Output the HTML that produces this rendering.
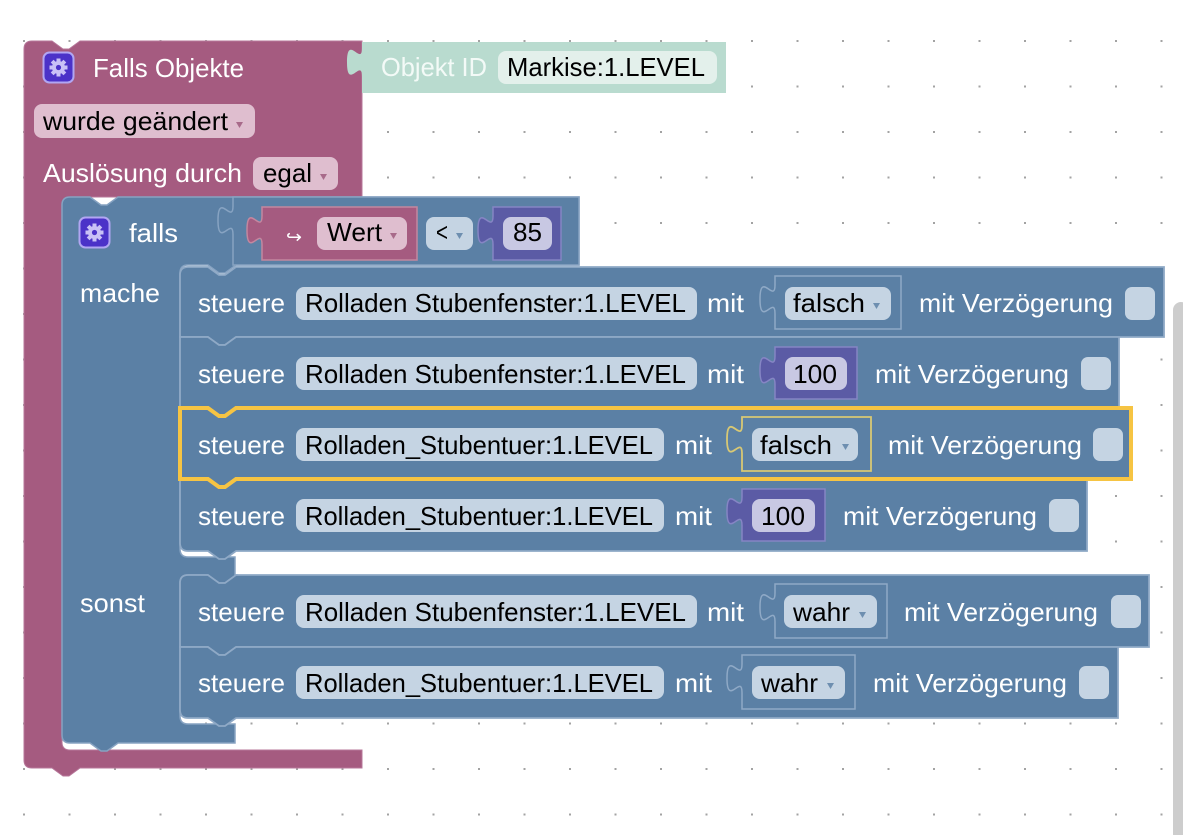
<!DOCTYPE html>
<html><head><meta charset="utf-8"><style>
html,body{margin:0;padding:0;background:#fff;overflow:hidden}
svg{display:block}
.l{font-family:"Liberation Sans",sans-serif;font-size:26px;fill:#fff}
.f{font-family:"Liberation Sans",sans-serif;font-size:26px;fill:#000}
</style></head><body>
<svg width="1183" height="835" viewBox="0 0 1183 835" xmlns="http://www.w3.org/2000/svg">
<defs><pattern id="g" patternUnits="userSpaceOnUse" x="23" y="40" width="45.5" height="45.5"><rect width="2" height="2" fill="#a3a3a3"/></pattern></defs>
<rect width="1183" height="835" fill="#fff"/>
<rect width="1183" height="835" fill="url(#g)"/>
<rect x="1173" y="302" width="16" height="540" rx="8" fill="#cdcdcd"/>

<!-- Pink outer event block -->
<path d="M24,49 Q24,41 32,41 L52,41 l11,8 l6,0 l11,-8 L362,41 L362,197 L70,197 Q62,197 62,205 L62,742 Q62,750 70,750 L362,750 L362,768 L80,768 l-11,8 l-6,0 l-11,-8 L32,768 Q24,768 24,760 Z" fill="#a55b80" stroke="#b7779a" stroke-width="1"/>

<!-- Objekt ID block -->
<path d="M362,48 c0,19 -15,-15 -15,14.25 s15,-4.75 15,14.25 L362,93 L726,93 L726,42 L362,42 Z" fill="#b9dbcf"/>
<text class="l" x="381" y="76" textLength="106" lengthAdjust="spacingAndGlyphs" style="fill:#f3faf7">Objekt ID</text>
<rect x="498" y="51" width="219" height="33" rx="8" fill="#e3f0eb"/>
<text class="f" x="507" y="76" textLength="198" lengthAdjust="spacingAndGlyphs">Markise:1.LEVEL</text>

<!-- gear 1 -->
<g transform="translate(58.5,67.5)">
<rect x="-15" y="-15" width="30" height="30" rx="6" fill="#4b32c8" stroke="#b1a6f2" stroke-width="2"/>
<g fill="#c9c1f6"><circle r="6.5"/><rect x="-2" y="-9" width="4" height="18"/><rect x="-2" y="-9" width="4" height="18" transform="rotate(45)"/><rect x="-2" y="-9" width="4" height="18" transform="rotate(90)"/><rect x="-2" y="-9" width="4" height="18" transform="rotate(135)"/></g>
<circle r="2.6" fill="#4b32c8"/>
</g>
<text class="l" x="93" y="77" textLength="151" lengthAdjust="spacingAndGlyphs">Falls Objekte</text>

<rect x="34" y="104" width="221" height="34" rx="8" fill="#dfbecf"/>
<text class="f" x="43" y="130" textLength="185" lengthAdjust="spacingAndGlyphs">wurde geändert</text>
<polygon points="236,122 243,122 239.5,128" fill="#a86a8a"/>

<text class="l" x="43" y="182" textLength="199" lengthAdjust="spacingAndGlyphs">Auslösung durch</text>
<rect x="253" y="157" width="85" height="33" rx="8" fill="#dfbecf"/>
<text class="f" x="263" y="182" textLength="49" lengthAdjust="spacingAndGlyphs">egal</text>
<polygon points="320,174 327,174 323.5,180" fill="#a86a8a"/>

<!-- Blue falls block -->
<path d="M62,205 Q62,197 70,197 L90,197 l11,8 l6,0 l11,-8 L579,197 L579,265 L236,265 l-11,8 l-6,0 l-11,-8 L188,265 Q180,265 180,273 L180,549 Q180,557 188,557 L235,557 L235,575 L236,575 l-11,8 l-6,0 l-11,-8 L188,575 Q180,575 180,583 L180,716 Q180,724 188,724 L235,724 L235,743 L118,743 l-11,8 l-6,0 l-11,-8 L70,743 Q62,743 62,735 Z" fill="#5b80a5" stroke="#87a3c2" stroke-width="1.5"/>

<!-- gear 2 -->
<g transform="translate(94.5,232.5)">
<rect x="-15" y="-15" width="30" height="30" rx="6" fill="#4b32c8" stroke="#b1a6f2" stroke-width="2"/>
<g fill="#c9c1f6"><circle r="6.5"/><rect x="-2" y="-9" width="4" height="18"/><rect x="-2" y="-9" width="4" height="18" transform="rotate(45)"/><rect x="-2" y="-9" width="4" height="18" transform="rotate(90)"/><rect x="-2" y="-9" width="4" height="18" transform="rotate(135)"/></g>
<circle r="2.6" fill="#4b32c8"/>
</g>
<text class="l" x="129" y="242" textLength="49" lengthAdjust="spacingAndGlyphs">falls</text>
<text class="l" x="80" y="302" textLength="80" lengthAdjust="spacingAndGlyphs">mache</text>
<text class="l" x="80" y="612" textLength="65" lengthAdjust="spacingAndGlyphs">sonst</text>

<!-- compare block -->
<path d="M233,206 c0,19 -15,-15 -15,14.25 s15,-4.75 15,14.25 L233,265 L579,265 L579,197 L233,197 Z" fill="#5b80a5" stroke="#87a3c2" stroke-width="1.5"/>
<!-- Wert pink -->
<path d="M262,216 c0,19 -15,-15 -15,14.25 s15,-4.75 15,14.25 L262,260 L417,260 L417,207 L262,207 Z" fill="#a55b80" stroke="#c3879f" stroke-width="1.5"/>
<text x="286" y="243" font-family="DejaVu Sans, sans-serif" font-size="18" fill="#fff" textLength="16" lengthAdjust="spacingAndGlyphs">↪</text>
<rect x="317" y="217" width="90" height="33" rx="8" fill="#dfbecf"/>
<text class="f" x="327" y="241" textLength="55" lengthAdjust="spacingAndGlyphs">Wert</text>
<polygon points="390,233 397,233 393.5,239" fill="#a86a8a"/>
<rect x="426" y="217" width="47" height="33" rx="8" fill="#c5d4e3"/>
<text class="f" x="436" y="241" textLength="12" lengthAdjust="spacingAndGlyphs">&lt;</text>
<polygon points="456,233 463,233 459.5,239" fill="#6e8fb0"/>
<path d="M493,216 c0,19 -15,-15 -15,14.25 s15,-4.75 15,14.25 L493,260 L561,260 L561,207 L493,207 Z" fill="#5b5ba5" stroke="#8585c4" stroke-width="1.5"/>
<rect x="503" y="217" width="49" height="33" rx="8" fill="#c8c8e3"/>
<text class="f" x="513" y="241" textLength="29" lengthAdjust="spacingAndGlyphs">85</text>

<!-- Row 1 -->
<path d="M180,275 Q180,267 188,267 L208,267 l11,8 l6,0 l11,-8 L1164,267 L1164,337 L236,337 l-11,8 l-6,0 l-11,-8 L180,337 Z" fill="#5b80a5" stroke="#8fa9c6" stroke-width="1.8"/>
<text class="l" x="198" y="312" textLength="87" lengthAdjust="spacingAndGlyphs">steuere</text>
<rect x="296" y="287" width="401" height="33" rx="8" fill="#c5d4e3"/>
<text class="f" x="305" y="312" textLength="381" lengthAdjust="spacingAndGlyphs">Rolladen Stubenfenster:1.LEVEL</text>
<text class="l" x="707" y="312" textLength="37" lengthAdjust="spacingAndGlyphs">mit</text>
<path d="M775,285 c0,19 -15,-15 -15,14.25 s15,-4.75 15,14.25 L775,329 L901,329 L901,276 L775,276 Z" fill="#5b80a5" stroke="#8fa9c6" stroke-width="1.5"/>
<rect x="785" y="287" width="106" height="33" rx="8" fill="#c5d4e3"/>
<text class="f" x="793" y="312" textLength="72" lengthAdjust="spacingAndGlyphs">falsch</text>
<polygon points="873,303 880,303 876.5,309" fill="#6e8fb0"/>
<text class="l" x="919" y="312" textLength="194" lengthAdjust="spacingAndGlyphs">mit Verzögerung</text>
<rect x="1125" y="287" width="30" height="33" rx="7" fill="#c5d4e3"/>

<!-- Row 2 -->
<path d="M180,337 L208,337 l11,8 l6,0 l11,-8 L1119,337 L1119,408 L236,408 l-11,8 l-6,0 l-11,-8 L180,408 Z" fill="#5b80a5" stroke="#8fa9c6" stroke-width="1.8"/>
<text class="l" x="198" y="383" textLength="87" lengthAdjust="spacingAndGlyphs">steuere</text>
<rect x="296" y="357" width="401" height="33" rx="8" fill="#c5d4e3"/>
<text class="f" x="305" y="383" textLength="381" lengthAdjust="spacingAndGlyphs">Rolladen Stubenfenster:1.LEVEL</text>
<text class="l" x="707" y="383" textLength="37" lengthAdjust="spacingAndGlyphs">mit</text>
<path d="M775,356 c0,19 -15,-15 -15,14.25 s15,-4.75 15,14.25 L775,399 L857,399 L857,347 L775,347 Z" fill="#5b5ba5" stroke="#8585c4" stroke-width="1.5"/>
<rect x="785" y="357" width="62" height="33" rx="8" fill="#c8c8e3"/>
<text class="f" x="793" y="383" textLength="44" lengthAdjust="spacingAndGlyphs">100</text>
<text class="l" x="875" y="383" textLength="194" lengthAdjust="spacingAndGlyphs">mit Verzögerung</text>
<rect x="1081" y="357" width="30" height="33" rx="7" fill="#c5d4e3"/>

<!-- Row 4 -->
<path d="M180,479 L208,479 l11,8 l6,0 l11,-8 L1087,479 L1087,551 L236,551 l-11,8 l-6,0 l-11,-8 L188,551 Q180,551 180,543 Z" fill="#5b80a5" stroke="#8fa9c6" stroke-width="1.8"/>
<text class="l" x="198" y="525" textLength="87" lengthAdjust="spacingAndGlyphs">steuere</text>
<rect x="296" y="499" width="368" height="33" rx="8" fill="#c5d4e3"/>
<text class="f" x="305" y="525" textLength="348" lengthAdjust="spacingAndGlyphs">Rolladen_Stubentuer:1.LEVEL</text>
<text class="l" x="675" y="525" textLength="37" lengthAdjust="spacingAndGlyphs">mit</text>
<path d="M742,497 c0,19 -15,-15 -15,14.25 s15,-4.75 15,14.25 L742,541 L825,541 L825,489 L742,489 Z" fill="#5b5ba5" stroke="#8585c4" stroke-width="1.5"/>
<rect x="752" y="499" width="63" height="33" rx="8" fill="#c8c8e3"/>
<text class="f" x="761" y="525" textLength="44" lengthAdjust="spacingAndGlyphs">100</text>
<text class="l" x="843" y="525" textLength="194" lengthAdjust="spacingAndGlyphs">mit Verzögerung</text>
<rect x="1049" y="499" width="30" height="33" rx="7" fill="#c5d4e3"/>

<!-- Row 3 (selected) -->
<path d="M180,408 L208,408 l11,8 l6,0 l11,-8 L1131,408 L1131,479 L236,479 l-11,8 l-6,0 l-11,-8 L180,479 Z" fill="#5b80a5" stroke="#f6c443" stroke-width="4"/>
<text class="l" x="198" y="454" textLength="87" lengthAdjust="spacingAndGlyphs">steuere</text>
<rect x="296" y="428" width="368" height="33" rx="8" fill="#c5d4e3"/>
<text class="f" x="305" y="454" textLength="348" lengthAdjust="spacingAndGlyphs">Rolladen_Stubentuer:1.LEVEL</text>
<text class="l" x="675" y="454" textLength="37" lengthAdjust="spacingAndGlyphs">mit</text>
<path d="M742,425 c0,19 -15,-15 -15,14.25 s15,-4.75 15,14.25 L742,471 L871,471 L871,417 L742,417 Z" fill="#5b80a5" stroke="#d8c874" stroke-width="1.8"/>
<rect x="752" y="428" width="106" height="33" rx="8" fill="#c5d4e3"/>
<text class="f" x="760" y="454" textLength="72" lengthAdjust="spacingAndGlyphs">falsch</text>
<polygon points="842,444 849,444 845.5,450" fill="#6e8fb0"/>
<text class="l" x="888" y="454" textLength="194" lengthAdjust="spacingAndGlyphs">mit Verzögerung</text>
<rect x="1093" y="428" width="30" height="33" rx="7" fill="#c5d4e3"/>

<!-- Sonst Row 1 -->
<path d="M180,583 Q180,575 188,575 L208,575 l11,8 l6,0 l11,-8 L1149,575 L1149,647 L236,647 l-11,8 l-6,0 l-11,-8 L180,647 Z" fill="#5b80a5" stroke="#8fa9c6" stroke-width="1.8"/>
<text class="l" x="198" y="621" textLength="87" lengthAdjust="spacingAndGlyphs">steuere</text>
<rect x="296" y="595" width="401" height="33" rx="8" fill="#c5d4e3"/>
<text class="f" x="305" y="621" textLength="381" lengthAdjust="spacingAndGlyphs">Rolladen Stubenfenster:1.LEVEL</text>
<text class="l" x="707" y="621" textLength="37" lengthAdjust="spacingAndGlyphs">mit</text>
<path d="M775,593 c0,19 -15,-15 -15,14.25 s15,-4.75 15,14.25 L775,638 L887,638 L887,584 L775,584 Z" fill="#5b80a5" stroke="#8fa9c6" stroke-width="1.5"/>
<rect x="784" y="595" width="93" height="33" rx="8" fill="#c5d4e3"/>
<text class="f" x="793" y="621" textLength="57" lengthAdjust="spacingAndGlyphs">wahr</text>
<polygon points="859,612 866,612 862.5,618" fill="#6e8fb0"/>
<text class="l" x="904" y="621" textLength="194" lengthAdjust="spacingAndGlyphs">mit Verzögerung</text>
<rect x="1111" y="595" width="30" height="33" rx="7" fill="#c5d4e3"/>

<!-- Sonst Row 2 -->
<path d="M180,647 L208,647 l11,8 l6,0 l11,-8 L1118,647 L1118,718 L236,718 l-11,8 l-6,0 l-11,-8 L188,718 Q180,718 180,710 Z" fill="#5b80a5" stroke="#8fa9c6" stroke-width="1.8"/>
<text class="l" x="198" y="692" textLength="87" lengthAdjust="spacingAndGlyphs">steuere</text>
<rect x="296" y="666" width="368" height="33" rx="8" fill="#c5d4e3"/>
<text class="f" x="305" y="692" textLength="348" lengthAdjust="spacingAndGlyphs">Rolladen_Stubentuer:1.LEVEL</text>
<text class="l" x="675" y="692" textLength="37" lengthAdjust="spacingAndGlyphs">mit</text>
<path d="M742,664 c0,19 -15,-15 -15,14.25 s15,-4.75 15,14.25 L742,709 L855,709 L855,655 L742,655 Z" fill="#5b80a5" stroke="#8fa9c6" stroke-width="1.5"/>
<rect x="752" y="666" width="93" height="33" rx="8" fill="#c5d4e3"/>
<text class="f" x="761" y="692" textLength="57" lengthAdjust="spacingAndGlyphs">wahr</text>
<polygon points="827,683 834,683 830.5,689" fill="#6e8fb0"/>
<text class="l" x="873" y="692" textLength="194" lengthAdjust="spacingAndGlyphs">mit Verzögerung</text>
<rect x="1079" y="666" width="30" height="33" rx="7" fill="#c5d4e3"/>
</svg>
</body></html>
